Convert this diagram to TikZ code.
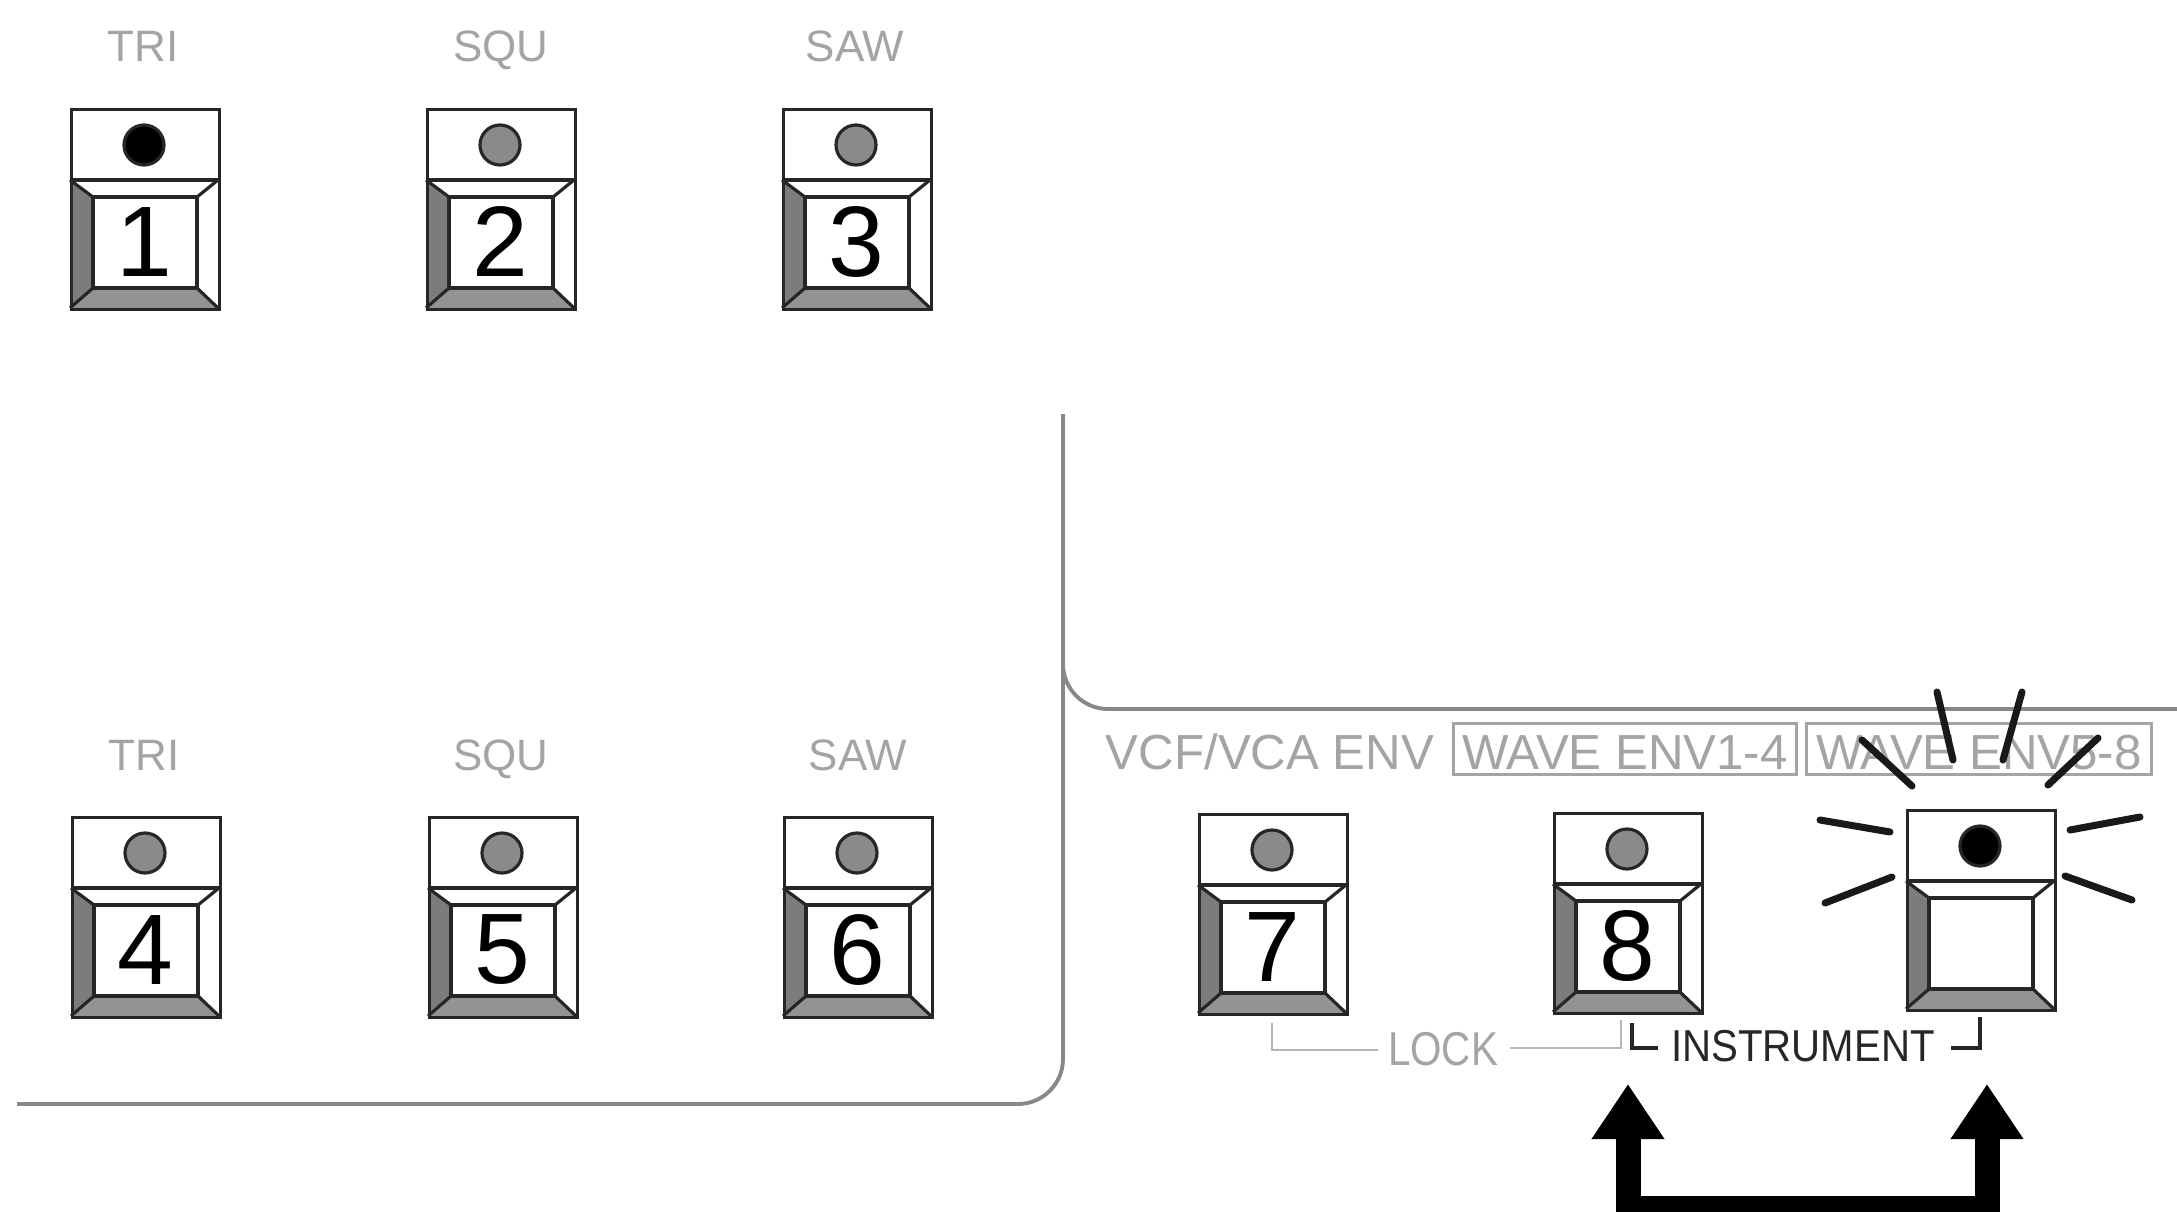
\documentclass[tikz,border=0pt]{standalone}
\usepackage{fontspec}
\setmainfont{Liberation Sans}
\usetikzlibrary{arrows.meta}
\definecolor{lblgray}{HTML}{A4A4A4}
\definecolor{linegray}{HTML}{888888}
\definecolor{ledgray}{HTML}{8A8A8A}
\definecolor{bevelL}{HTML}{7C7C7C}
\definecolor{bevelB}{HTML}{939393}
\tikzset{
  btnline/.style={line width=0.9pt, draw=black!85},
  btnframe/.style={draw=black!85, line width=0.9pt, minimum width=1.48cm, minimum height=2cm, inner sep=0pt, anchor=north west},
  digit/.style={inner sep=0pt, font=\fontsize{28.5}{30}\selectfont},
  lbl/.style={text=lblgray, inner sep=0pt, anchor=base, font=\fontsize{12.5}{14}\selectfont},
  envlbl/.style={text=lblgray, inner sep=0pt, anchor=base, font=\fontsize{14}{16}\selectfont},
  envbox/.style={draw=lblgray, line width=0.8pt},
  panelline/.style={draw=linegray, line width=1.1pt, rounded corners=0.45cm},
  lockline/.style={draw=lblgray!80, line width=0.6pt},
  instline/.style={draw=black!85, line width=1.3pt},
  ray/.style={draw=black!90, line width=2pt, line cap=round},
  bigarrow/.style={draw=black, line width=0.25cm, line join=miter,
    {Triangle[length=0.55cm,width=0.69cm]}-{Triangle[length=0.55cm,width=0.69cm]}}
}
\newcommand{\pbtn}[5]{%
  \begin{scope}[shift={(#2,#3)}]
    \fill[white] (0,0) rectangle (148,200);
    \fill[bevelL] (0,72) -- (23,89) -- (23,180) -- (0,200) -- cycle;
    \fill[bevelB] (0,200) -- (23,180) -- (127,180) -- (148,200) -- cycle;
    \draw[btnline] (0,72) -- (23,89) (148,72) -- (127,89) (0,200) -- (23,180) (148,200) -- (127,180);
    \draw[btnline] (23,89) rectangle (127,180);
    \draw[btnline] (0,72) -- (148,72);
    \node[btnframe] (#1) at (0,0) {};
    \draw[btnline, fill=#5] (74,37) circle[radius=0.2cm];
    \node[digit] (#1n) at (74,134) {#4};
  \end{scope}}
\begin{document}
\begin{tikzpicture}[x=0.01cm, y=-0.01cm]
\useasboundingbox (0,0) rectangle (2177,1212);
\clip (0,0) rectangle (2177,1212);
\fill[white] (0,0) rectangle (2177,1212);

% panel lines
\draw[panelline] (1063,414) -- (1063,1104) -- (17,1104);
\draw[panelline] (1063,600) -- (1063,709) -- (2177,709);

% row labels
\node[lbl] (l1) at (143,61) {TRI};
\node[lbl] (l2) at (501,61) {SQU};
\node[lbl] (l3) at (855,61) {SAW};
\node[lbl] (l4) at (144,770) {TRI};
\node[lbl] (l5) at (501,770) {SQU};
\node[lbl] (l6) at (858,770) {SAW};

% buttons
\pbtn{b1}{70}{108}{1}{black}
\pbtn{b2}{426}{108}{2}{ledgray}
\pbtn{b3}{782}{108}{3}{ledgray}
\pbtn{b4}{71}{816}{4}{ledgray}
\pbtn{b5}{428}{816}{5}{ledgray}
\pbtn{b6}{783}{816}{6}{ledgray}
\pbtn{b7}{1198}{813}{7}{ledgray}
\pbtn{b8}{1553}{812}{8}{ledgray}
\pbtn{b9}{1906}{809}{}{black}

% envelope labels
\node[envlbl] (vcf) at (1270,769) {VCF/VCA ENV};
\node[envbox, minimum width=3.43cm, minimum height=0.51cm] (w14box) at (1625,749) {};
\node[envlbl] (w14) at (1625,769) {WAVE ENV1-4};
\node[envbox, minimum width=3.45cm, minimum height=0.51cm] (w58box) at (1979,749) {};
\node[envlbl] (w58) at (1979,769) {WAVE ENV5-8};

% flashing rays
\draw[ray] (1862,740) -- (1912,786);
\draw[ray] (1937,692) -- (1953,760);
\draw[ray] (2022,692) -- (2003,760);
\draw[ray] (2098,738) -- (2048,785);
\draw[ray] (1820,820) -- (1890,832);
\draw[ray] (1825,903) -- (1892,877);
\draw[ray] (2070,830) -- (2140,817);
\draw[ray] (2065,876) -- (2132,900);

% LOCK bracket
\node[text=lblgray, inner sep=0pt, font=\fontsize{13.5}{15}\selectfont, xscale=0.85] (lock) at (1443,1049) {LOCK};
\draw[lockline] (1272,1023) -- (1272,1050) -- (1378,1050);
\draw[lockline] (1510,1048) -- (1621,1048) -- (1621,1020);

% INSTRUMENT bracket
\node[text=black!85, inner sep=0pt, font=\fontsize{12.7}{15}\selectfont, xscale=0.9] (instr) at (1803,1046) {INSTRUMENT};
\draw[instline] (1632,1023) -- (1632,1048) -- (1658,1048);
\draw[instline] (1951,1048) -- (1980,1048) -- (1980,1017);

% big arrows
\coordinate (tipL) at (1628,1084);
\coordinate (tipR) at (1987,1084);
\draw[bigarrow] (tipL) -- (1628,1209) -- (1987,1209) -- (tipR);
\end{tikzpicture}
\end{document}
